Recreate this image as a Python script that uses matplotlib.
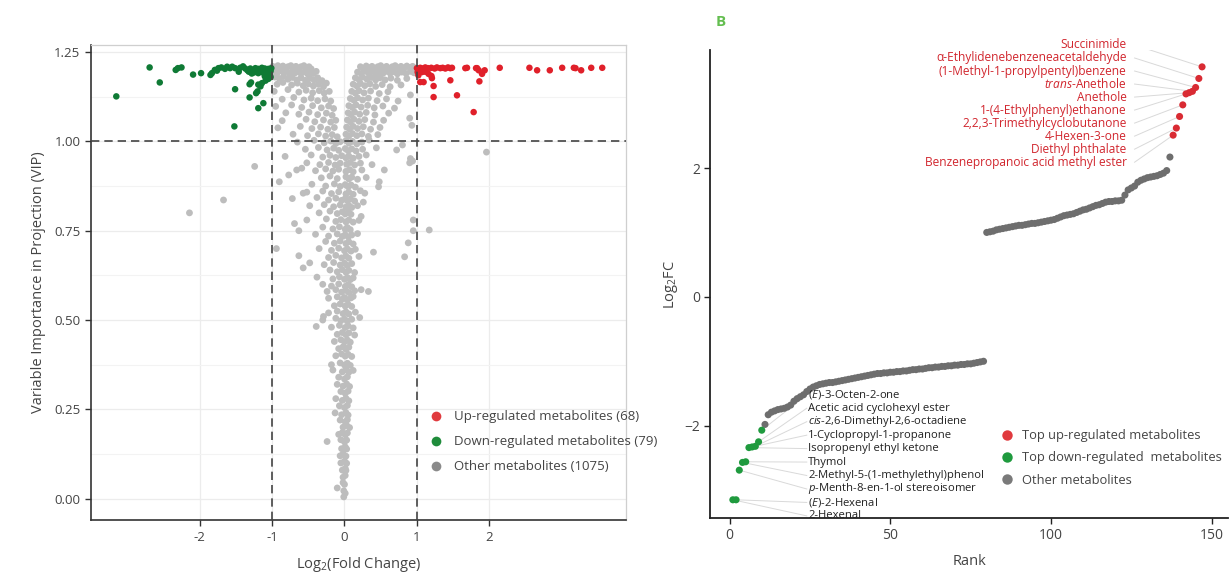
import matplotlib
matplotlib.use('Agg')
import matplotlib.pyplot as plt
import numpy as np
from matplotlib.lines import Line2D

plt.rcParams['font.family'] = ['Open Sans', 'DejaVu Sans']
plt.rcParams['mathtext.fontset'] = 'custom'
plt.rcParams['mathtext.rm'] = 'Open Sans'
plt.rcParams['mathtext.it'] = 'Open Sans:italic'
plt.rcParams['mathtext.bf'] = 'Open Sans:bold'

# ---------------- Panel A data (log2 FC, VIP) ----------------
other_points = [
    (-0.99,1.210),(-0.95,1.205),(-0.92,1.212),(-0.88,1.207),(-0.85,1.211),(-0.81,1.204),(-0.78,1.209),(-0.74,1.212),
    (-0.71,1.206),(-0.67,1.210),(-0.63,1.204),(-0.60,1.209),(-0.56,1.212),(-0.53,1.205),(-0.49,1.209),(-0.46,1.203),
    (-0.97,1.196),(-0.93,1.191),(-0.89,1.198),(-0.84,1.193),(-0.80,1.197),(-0.76,1.190),(-0.72,1.195),(-0.68,1.192),
    (-0.64,1.197),(-0.60,1.190),(-0.55,1.195),(-0.51,1.189),(-0.47,1.194),(-0.43,1.190),(-0.39,1.196),
    (-0.96,1.180),(-0.90,1.176),(-0.84,1.182),(-0.78,1.174),(-0.72,1.179),(-0.66,1.172),(-0.60,1.178),(-0.54,1.171),
    (-0.48,1.177),(-0.42,1.172),(-0.37,1.178),(-0.31,1.170),
    (-0.93,1.160),(-0.85,1.165),(-0.73,1.158),(-0.65,1.163),(-0.57,1.156),(-0.50,1.161),(-0.43,1.155),(-0.36,1.160),
    (-0.29,1.153),(-0.25,1.163),
    (-0.97,1.140),(-0.78,1.145),(-0.63,1.138),(-0.53,1.143),(-0.44,1.136),(-0.35,1.142),(-0.28,1.135),(-0.21,1.140),
    (-0.86,1.118),(-0.70,1.123),(-0.56,1.116),(-0.46,1.121),(-0.37,1.114),(-0.27,1.119),(-0.19,1.113),
    (-0.95,1.098),(-0.73,1.102),(-0.59,1.095),(-0.44,1.100),(-0.32,1.094),(-0.22,1.099),(-0.15,1.092),
    (-0.81,1.080),(-0.63,1.076),(-0.49,1.082),(-0.37,1.075),(-0.25,1.079),(-0.17,1.073),
    (-0.86,1.058),(-0.53,1.062),(-0.41,1.055),(-0.29,1.060),(-0.19,1.054),(-0.12,1.059),
    (-0.92,1.038),(-0.61,1.042),(-0.45,1.036),(-0.33,1.040),(-0.23,1.034),(-0.14,1.039),
    (-0.71,1.020),(-0.51,1.016),(-0.36,1.021),(-0.26,1.015),(-0.17,1.019),(-0.10,1.013),
    (0.22,1.209),(0.26,1.204),(0.30,1.211),(0.34,1.206),(0.38,1.210),(0.42,1.204),(0.46,1.209),(0.50,1.212),
    (0.54,1.205),(0.58,1.210),(0.62,1.204),(0.66,1.209),(0.70,1.212),(0.74,1.206),(0.78,1.210),(0.82,1.205),
    (0.86,1.211),(0.90,1.207),(0.94,1.210),(0.98,1.205),
    (0.18,1.194),(0.23,1.190),(0.28,1.197),(0.33,1.191),(0.38,1.196),(0.43,1.189),(0.48,1.195),(0.53,1.190),
    (0.58,1.196),(0.63,1.191),(0.68,1.195),(0.73,1.189),(0.79,1.194),(0.85,1.190),(0.91,1.196),(0.96,1.192),
    (0.15,1.178),(0.20,1.173),(0.25,1.180),(0.31,1.174),(0.37,1.179),(0.43,1.172),(0.49,1.178),(0.56,1.172),
    (0.64,1.177),(0.73,1.171),(0.86,1.176),
    (0.12,1.160),(0.17,1.155),(0.22,1.162),(0.28,1.156),(0.35,1.161),(0.43,1.154),(0.52,1.159),(0.63,1.153),(0.78,1.158),
    (0.10,1.140),(0.15,1.135),(0.20,1.142),(0.27,1.136),(0.36,1.141),(0.48,1.134),(0.60,1.139),(0.91,1.130),
    (0.08,1.120),(0.13,1.115),(0.18,1.122),(0.25,1.116),(0.33,1.121),(0.45,1.114),(0.58,1.119),(0.74,1.113),
    (0.06,1.100),(0.11,1.095),(0.16,1.102),(0.23,1.096),(0.32,1.101),(0.41,1.094),(0.53,1.099),(0.69,1.093),
    (0.05,1.080),(0.09,1.075),(0.14,1.082),(0.21,1.076),(0.30,1.081),(0.42,1.074),(0.61,1.079),(0.90,1.065),
    (0.04,1.060),(0.08,1.055),(0.13,1.062),(0.20,1.056),(0.28,1.061),(0.40,1.054),(0.54,1.059),
    (0.03,1.040),(0.07,1.035),(0.12,1.042),(0.18,1.036),(0.26,1.041),(0.36,1.034),(0.49,1.039),(0.93,1.045),
    (0.02,1.020),(0.06,1.015),(0.11,1.022),(0.17,1.016),(0.24,1.021),(0.33,1.014),(0.46,1.019),
    (-0.65,0.998),(-0.42,1.003),(-0.28,0.996),(-0.19,1.001),(-0.12,0.994),(-0.06,0.999),(0.02,1.002),(0.06,0.995),
    (0.11,1.000),(0.17,0.993),(0.24,0.998),(0.34,1.004),(0.80,0.990),
    (-0.54,0.978),(-0.36,0.983),(-0.24,0.976),(-0.15,0.981),(-0.08,0.975),(0.01,0.980),(0.05,0.974),(0.10,0.979),
    (0.16,0.973),(0.25,0.978),(0.44,0.982),(0.72,0.976),
    (-0.82,0.958),(-0.46,0.962),(-0.30,0.956),(-0.20,0.961),(-0.12,0.955),(-0.04,0.960),(0.02,0.954),(0.06,0.959),
    (0.12,0.953),(0.20,0.958),(0.30,0.962),(0.91,0.952),(0.94,0.945),
    (-1.24,0.930),(-0.52,0.940),(-0.34,0.935),(-0.22,0.941),(-0.13,0.934),(-0.06,0.939),(0.03,0.936),(0.08,0.941),
    (0.14,0.934),(0.22,0.939),(0.38,0.935),(0.90,0.940),
    (-0.66,0.920),(-0.59,0.925),(-0.40,0.918),(-0.26,0.923),(-0.16,0.917),(-0.08,0.922),(0.02,0.916),(0.07,0.921),
    (0.12,0.915),(0.24,0.920),(0.55,0.920),
    (-0.77,0.906),(-0.90,0.887),(-0.32,0.898),(-0.20,0.903),(-0.10,0.896),(0.02,0.901),(0.06,0.895),(0.10,0.900),
    (0.18,0.894),(0.30,0.899),(0.48,0.887),(0.47,0.873),
    (-0.45,0.880),(-0.26,0.875),(-0.14,0.881),(-0.06,0.874),(0.01,0.879),(0.05,0.873),(0.09,0.878),(0.15,0.872),
    (-0.57,0.855),(-0.52,0.858),(-0.30,0.861),(-0.18,0.854),(-0.08,0.859),(0.02,0.853),(0.06,0.858),(0.12,0.852),
    (0.28,0.855),(0.22,0.862),
    (-0.72,0.840),(-0.38,0.843),(-0.22,0.836),(-0.12,0.841),(-0.04,0.835),(0.01,0.840),(0.04,0.834),(0.08,0.839),
    (0.14,0.833),(0.26,0.830),
    (-0.48,0.820),(-0.28,0.823),(-0.15,0.817),(-0.06,0.822),(0.02,0.816),(0.06,0.821),(0.10,0.815),(0.18,0.820),
    (-0.35,0.800),(-0.20,0.805),(-0.10,0.798),(-0.03,0.803),(0.01,0.797),(0.05,0.802),(0.09,0.796),(0.23,0.790),
    (-0.69,0.770),(-0.52,0.780),(-0.25,0.783),(-0.12,0.776),(-0.05,0.781),(0.02,0.775),(0.06,0.780),(0.12,0.774),
    (0.20,0.779),(0.95,0.780),
    (-0.63,0.750),(-0.30,0.760),(-0.16,0.755),(-0.07,0.761),(0.01,0.754),(0.04,0.759),(0.08,0.753),(0.95,0.750),(1.17,0.752),
    (-0.40,0.740),(-0.22,0.735),(-0.10,0.741),(-0.03,0.734),(0.01,0.739),(0.05,0.733),(0.10,0.738),(0.18,0.742),(0.88,0.716),
    (-0.26,0.720),(-0.14,0.715),(-0.06,0.721),(0.02,0.714),(0.06,0.719),(0.12,0.713),(-0.94,0.700),
    (-0.35,0.700),(-0.18,0.695),(-0.08,0.701),(0.00,0.694),(0.04,0.699),(0.09,0.693),(0.15,0.698),(0.40,0.690),
    (-0.63,0.680),(-0.22,0.675),(-0.12,0.681),(-0.04,0.674),(0.02,0.679),(0.06,0.673),(0.20,0.678),(0.83,0.677),
    (-0.48,0.660),(-0.28,0.655),(-0.15,0.661),(-0.06,0.654),(0.00,0.659),(0.04,0.653),(0.10,0.658),
    (-0.57,0.646),(-0.20,0.640),(-0.10,0.635),(-0.03,0.641),(0.02,0.634),(0.06,0.639),(0.14,0.633),
    (-0.38,0.620),(-0.16,0.615),(-0.07,0.621),(0.00,0.614),(0.04,0.619),(0.08,0.613),(0.12,0.618),
    (-0.30,0.600),(-0.18,0.595),(-0.08,0.601),(0.01,0.594),(0.05,0.599),(0.10,0.593),
    (-0.24,0.580),(-0.12,0.585),(-0.04,0.578),(0.02,0.583),(0.06,0.577),(0.14,0.582),(0.23,0.585),(0.33,0.580),
    (-0.22,0.561),(-0.10,0.565),(-0.03,0.558),(0.00,0.563),(0.04,0.557),(0.09,0.562),(0.12,0.566),
    (-0.14,0.540),(-0.06,0.545),(0.01,0.539),(0.05,0.544),(0.10,0.538),
    (-0.22,0.520),(-0.29,0.510),(-0.10,0.525),(-0.02,0.518),(0.02,0.523),(0.06,0.517),(0.15,0.522),(0.21,0.507),
    (-0.30,0.500),(-0.12,0.505),(-0.05,0.498),(0.00,0.503),(0.04,0.497),(0.10,0.502),
    (-0.39,0.482),(-0.18,0.480),(-0.07,0.485),(0.01,0.479),(0.05,0.484),(0.12,0.478),
    (-0.10,0.460),(-0.03,0.465),(0.02,0.459),(0.06,0.464),(0.14,0.458),
    (-0.14,0.440),(-0.05,0.445),(0.00,0.439),(0.04,0.444),(0.08,0.438),
    (-0.08,0.420),(-0.02,0.425),(0.02,0.419),(0.06,0.424),
    (-0.12,0.400),(-0.04,0.405),(0.01,0.399),(0.05,0.404),(0.10,0.398),
    (-0.18,0.375),(-0.06,0.380),(0.00,0.374),(0.04,0.379),(0.08,0.373),
    (-0.16,0.360),(-0.03,0.355),(0.02,0.361),(0.06,0.354),(0.12,0.359),
    (-0.08,0.340),(0.00,0.335),(0.04,0.341),
    (-0.10,0.320),(-0.02,0.315),(0.03,0.321),(0.07,0.314),
    (-0.05,0.300),(0.01,0.295),(0.05,0.301),
    (-0.12,0.280),(-0.03,0.275),(0.02,0.281),(0.06,0.274),
    (-0.07,0.260),(0.00,0.255),(0.04,0.261),
    (-0.13,0.240),(-0.04,0.235),(0.02,0.241),(0.05,0.234),
    (-0.06,0.220),(0.01,0.215),(0.04,0.221),
    (-0.02,0.200),(0.03,0.205),(0.07,0.199),
    (-0.08,0.180),(-0.03,0.185),(0.01,0.179),(0.04,0.184),
    (-0.24,0.160),(-0.05,0.165),(0.00,0.159),(0.03,0.164),
    (-0.04,0.140),(0.01,0.145),(0.03,0.139),
    (-0.06,0.120),(-0.02,0.125),(0.02,0.119),
    (-0.05,0.100),(0.00,0.105),(0.03,0.099),
    (-0.03,0.080),(0.01,0.085),(0.02,0.079),
    (-0.02,0.060),(0.01,0.065),
    (-0.02,0.045),(0.00,0.040),
    (-0.10,0.030),(-0.01,0.022),(0.01,0.015),(-0.01,0.005),
    (-2.14,0.800),(-1.67,0.836),(1.96,0.970),
]

down_points = [
    (-3.15,1.126),(-2.69,1.207),(-2.55,1.165),(-2.33,1.200),(-2.30,1.205),(-2.25,1.207),(-2.09,1.187),(-1.98,1.191),
    (-1.83,1.191),(-1.79,1.200),(-1.74,1.205),(-1.70,1.207),(-1.65,1.203),(-1.58,1.205),(-1.51,1.205),(-1.44,1.206),
    (-1.37,1.204),(-1.30,1.204),(-1.23,1.205),(-1.19,1.203),(-1.14,1.206),(-1.10,1.204),(-1.05,1.203),(-1.01,1.205),
    (-1.46,1.195),(-1.32,1.195),(-1.25,1.193),(-1.19,1.191),(-1.12,1.192),(-1.05,1.193),(-1.28,1.190),(-1.51,1.146),
    (-1.31,1.123),(-1.22,1.135),(-1.19,1.093),(-1.12,1.107),(-1.31,1.160),(-1.19,1.159),(-1.16,1.154),(-1.14,1.163),
    (-1.10,1.182),(-1.09,1.170),(-1.05,1.175),(-1.52,1.042),(-1.03,1.185),(-1.07,1.199),(-1.40,1.210),(-1.55,1.209),
    (-1.62,1.209),(-1.76,1.198),(-1.85,1.186),(-1.34,1.199),(-1.17,1.198),(-1.02,1.197),(-1.08,1.188),(-1.29,1.165),
    (-1.20,1.140),(-1.02,1.180),
]

up_points = [
    (1.00,1.205),(1.046,1.206),(1.078,1.204),(1.115,1.207),(1.152,1.205),(1.198,1.206),(1.244,1.204),(1.276,1.207),
    (1.323,1.205),(1.355,1.206),(1.392,1.204),(1.429,1.207),(1.461,1.205),(1.484,1.206),(1.668,1.205),(1.691,1.206),
    (1.816,1.205),(1.853,1.199),(1.899,1.189),(1.935,1.199),(2.143,1.206),(2.553,1.206),(2.659,1.199),(2.834,1.199),
    (3.005,1.206),(3.166,1.206),(3.189,1.205),(3.267,1.199),(3.406,1.206),(3.558,1.206),
    (1.07,1.194),(1.115,1.195),(1.16,1.189),(1.20,1.183),(1.046,1.166),(1.092,1.166),(1.207,1.177),(1.23,1.155),
    (1.23,1.124),(1.461,1.171),(1.553,1.129),(1.862,1.168),(1.783,1.082),(1.01,1.194),(1.02,1.185),(1.83,1.205),
]

other_fc = [p[0] for p in other_points]
other_vip = [p[1] for p in other_points]
down_fc = [p[0] for p in down_points]
down_vip = [p[1] for p in down_points]
up_fc = [p[0] for p in up_points]
up_vip = [p[1] for p in up_points]

legend_a = ['Up-regulated metabolites (68)', 'Down-regulated metabolites (79)', 'Other metabolites (1075)']

# ---------------- Panel B data (rank, log2 FC) ----------------
down_rank = list(range(1, 80))
down_fc_b = [-3.15, -3.15, -2.69, -2.57, -2.56, -2.34, -2.33, -2.32, -2.25, -2.07,
             -1.98, -1.83, -1.79, -1.77, -1.75, -1.74, -1.73, -1.71, -1.68, -1.62,
             -1.58, -1.55, -1.52, -1.47, -1.43, -1.40, -1.38, -1.36, -1.35, -1.34,
             -1.33, -1.33, -1.32, -1.31, -1.30, -1.29, -1.28, -1.27, -1.26, -1.25,
             -1.24, -1.23, -1.22, -1.21, -1.20, -1.19, -1.19, -1.18, -1.18, -1.17,
             -1.17, -1.16, -1.16, -1.15, -1.15, -1.14, -1.13, -1.13, -1.12, -1.12,
             -1.11, -1.10, -1.10, -1.09, -1.09, -1.08, -1.08, -1.07, -1.07, -1.06,
             -1.06, -1.05, -1.05, -1.04, -1.04, -1.03, -1.02, -1.01, -1.00]
up_rank = list(range(80, 148))
up_fc_b = [1.00, 1.01, 1.02, 1.04, 1.05, 1.06, 1.07, 1.08, 1.09, 1.10,
           1.11, 1.11, 1.12, 1.13, 1.14, 1.14, 1.15, 1.16, 1.17, 1.18,
           1.19, 1.20, 1.22, 1.24, 1.26, 1.27, 1.28, 1.29, 1.31, 1.33,
           1.35, 1.36, 1.38, 1.40, 1.42, 1.43, 1.45, 1.47, 1.48, 1.48,
           1.49, 1.49, 1.50, 1.58, 1.66, 1.69, 1.72, 1.78, 1.81, 1.83,
           1.85, 1.86, 1.87, 1.88, 1.90, 1.92, 1.96, 2.17,
           2.51, 2.62, 2.80, 2.98, 3.15, 3.17, 3.19, 3.25, 3.39, 3.57]
n_top = 10

top_down_names = ['2-Hexenal', r'($\it{E}$)-2-Hexenal', r'$\it{p}$-Menth-8-en-1-ol stereoisomer',
                  '2-Methyl-5-(1-methylethyl)phenol', 'Thymol', 'Isopropenyl ethyl ketone',
                  '1-Cyclopropyl-1-propanone', r'$\it{cis}$-2,6-Dimethyl-2,6-octadiene',
                  'Acetic acid cyclohexyl ester', r'($\it{E}$)-3-Octen-2-one']
top_up_names = ['Benzenepropanoic acid methyl ester', 'Diethyl phthalate', '4-Hexen-3-one',
                '2,2,3-Trimethylcyclobutanone', '1-(4-Ethylphenyl)ethanone', 'Anethole',
                r'$\it{trans}$-Anethole', '(1-Methyl-1-propylpentyl)benzene',
                'α-Ethylidenebenzeneacetaldehyde', 'Succinimide']
legend_b = ['Top up-regulated metabolites', 'Top down-regulated  metabolites', 'Other metabolites']

# ---------------- Figure ----------------
fig = plt.figure(figsize=(12.29, 5.76), dpi=100)

# Panel A
ax1 = fig.add_axes([0.074, 0.097, 0.435, 0.825])
ax1.set_xlim(-3.5, 3.88)
ax1.set_ylim(-0.06, 1.27)
ax1.set_xticks([-2, -1, 0, 1, 2])
ax1.set_xticklabels(['-2', '-1', '0', '1', '2'])
ax1.set_yticks([0, 0.25, 0.5, 0.75, 1.0, 1.25])
ax1.set_yticklabels(['0.00', '0.25', '0.50', '0.75', '1.00', '1.25'])
ax1.set_yticks([0.125, 0.375, 0.625, 0.875, 1.125], minor=True)
ax1.set_axisbelow(True)
ax1.grid(which='major', color='#ececec', lw=0.9)
ax1.grid(which='minor', axis='y', color='#f3f3f3', lw=0.8)
ax1.tick_params(which='minor', length=0)
ax1.tick_params(which='major', length=4, width=1, color='#333333', labelsize=9.5,
                labelcolor='#444444', direction='out')
for s in ['left', 'bottom']:
    ax1.spines[s].set_color('#333333')
    ax1.spines[s].set_linewidth(1.2)
for s in ['top', 'right']:
    ax1.spines[s].set_color('#cfcfcf')
    ax1.spines[s].set_linewidth(0.9)

ax1.scatter(other_fc, other_vip, s=24, color='#bdbdbd', edgecolors='none', zorder=2)
ax1.scatter(down_fc, down_vip, s=22, color='#0f7a35', edgecolors='none', zorder=3)
ax1.scatter(up_fc, up_vip, s=22, color='#e0202a', edgecolors='none', zorder=3)

dash = (0, (5, 3))
ax1.axvline(-1, color='#444444', lw=1.2, ls=dash, zorder=4)
ax1.axvline(1, color='#444444', lw=1.2, ls=dash, zorder=4)
ax1.axhline(1.0, color='#444444', lw=1.2, ls=dash, zorder=4)

ax1.set_xlabel(r'Log$_2$(Fold Change)', fontsize=10.5, color='#444444', labelpad=8)
ax1.set_ylabel('Variable Importance in Projection (VIP)', fontsize=10.5, color='#444444', labelpad=6)

hA = [Line2D([], [], ls='none', marker='o', ms=7, mfc=c, mec='none') for c in ['#e03a3e', '#1f8c3b', '#8a8a8a']]
lgA = ax1.legend(hA, legend_a, loc='upper left', bbox_to_anchor=(0.61, 0.242), frameon=False,
                 fontsize=9.5, handletextpad=0.4, labelspacing=0.9, borderaxespad=0)
for t in lgA.get_texts():
    t.set_color('#444444')

# Panel B
ax2 = fig.add_axes([0.578, 0.101, 0.421, 0.812])
ax2.set_xlim(-6, 155)
ax2.set_ylim(-3.43, 3.83)
ax2.set_xticks([0, 50, 100, 150])
ax2.set_yticks([-2, 0, 2])
ax2.spines['top'].set_visible(False)
ax2.spines['right'].set_visible(False)
for s in ['left', 'bottom']:
    ax2.spines[s].set_color('#222222')
    ax2.spines[s].set_linewidth(1.3)
ax2.tick_params(length=4, width=1, color='#222222', labelsize=10, labelcolor='#444444')

ax2.scatter(down_rank[n_top:], down_fc_b[n_top:], s=26, color='#6e6e6e', edgecolors='none', zorder=3)
ax2.scatter(up_rank[:-n_top], up_fc_b[:-n_top], s=26, color='#6e6e6e', edgecolors='none', zorder=3)
ax2.scatter(down_rank[:n_top], down_fc_b[:n_top], s=26, color='#1f9a3e', edgecolors='none', zorder=3)
ax2.scatter(up_rank[-n_top:], up_fc_b[-n_top:], s=26, color='#d92b33', edgecolors='none', zorder=3)

# labels for top down-regulated
lab_y_down = np.linspace(-3.40, -1.52, n_top)
for i in range(n_top):
    ax2.plot([24.0, down_rank[i]], [lab_y_down[i], down_fc_b[i]], color='#d9d9d9', lw=0.7, zorder=2)
    ax2.text(24.5, lab_y_down[i], top_down_names[i], ha='left', va='center', fontsize=8.1, color='#222222')

lab_y_up = np.linspace(2.09, 3.91, n_top)
up_r_top = up_rank[-n_top:]
up_v_top = up_fc_b[-n_top:]
for i in range(n_top):
    ax2.plot([126.0, up_r_top[i]], [lab_y_up[i], up_v_top[i]], color='#d9d9d9', lw=0.7, zorder=2)
    ax2.text(123.5, lab_y_up[i], top_up_names[i], ha='right', va='center', fontsize=8.6, color='#d1262e')

ax2.set_xlabel('Rank', fontsize=10.5, color='#444444', labelpad=8)
ax2.set_ylabel(r'Log$_2$FC', fontsize=10.5, color='#444444')
ax2.yaxis.set_label_coords(-0.058, 0.5)

hB = [Line2D([], [], ls='none', marker='o', ms=7.5, mfc=c, mec='none') for c in ['#e03a3e', '#1f9a3e', '#7a7a7a']]
lgB = ax2.legend(hB, legend_b, loc='upper left', bbox_to_anchor=(0.538, 0.2), frameon=False,
                 fontsize=9.3, handletextpad=0.15, labelspacing=0.7, borderaxespad=0)
for t in lgB.get_texts():
    t.set_color('#444444')

fig.text(716 / 1229, 1 - 22 / 576, 'B', color='#64be50', fontsize=11, fontweight='bold', va='center', ha='left')

fig.savefig('out.png', dpi=100)
